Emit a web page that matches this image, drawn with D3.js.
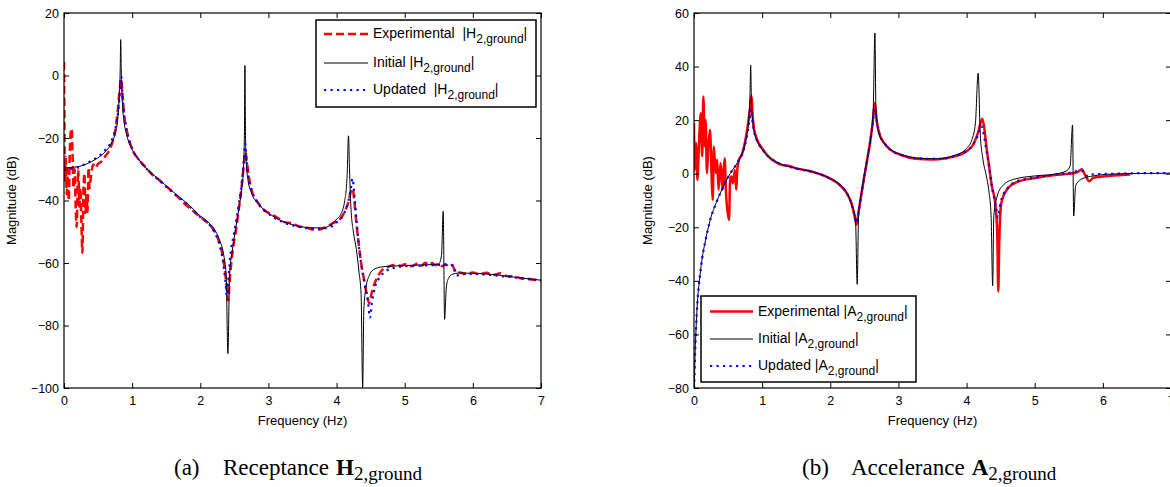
<!DOCTYPE html>
<html>
<head>
<meta charset="utf-8">
<script src="https://cdn.jsdelivr.net/npm/d3@7"></script>
<style>
  body { margin: 0; background: #fff; }
  svg text { font-family: "Liberation Sans", Arial, sans-serif; fill: #000; }
</style>
</head>
<body>
<svg id="fig" width="1170" height="487"></svg>
<script>

// tick values
const freqTicks = [0, 1, 2, 3, 4, 5, 6, 7];
const hTicks = [20, 0, -20, -40, -60, -80, -100];
const aTicks = [60, 40, 20, 0, -20, -40, -60, -80];

// (a) receptance |H2,ground|, [Hz, dB]
const hExperimental = [
  [0, 4.3], [0.005, -10], [0.012, -34], [0.025, -26], [0.04, -38], [0.055, -30], [0.07, -40],
  [0.085, -25], [0.1, -18], [0.113, -17], [0.125, -25], [0.14, -36], [0.155, -30], [0.17, -41],
  [0.186, -48.5], [0.2, -35], [0.21, -30], [0.225, -42], [0.24, -36], [0.255, -47], [0.27, -56.8],
  [0.285, -37], [0.3, -31.3], [0.315, -44], [0.33, -38], [0.345, -43.7], [0.36, -29.5], [0.375, -36],
  [0.39, -33.4], [0.41, -30], [0.43, -28.5], [0.46, -29.5], [0.5, -28.3], [0.55, -27.5], [0.6, -26],
  [0.65, -24.5], [0.7, -22], [0.75, -18], [0.79, -11], [0.82, -4], [0.838, -1], [0.855, -5],
  [0.88, -12], [0.93, -18.5], [1.0, -23.5], [1.1, -27], [1.2, -29.4], [1.3, -31.8], [1.4, -33.5],
  [1.5, -35.5], [1.6, -37.4], [1.7, -39.5], [1.8, -41.6], [1.85, -42.5], [1.9, -43.5], [2.0, -45.3],
  [2.1, -47], [2.2, -49.5], [2.28, -53.5], [2.34, -59], [2.38, -66], [2.41, -72], [2.43, -66],
  [2.47, -57], [2.52, -50], [2.57, -42], [2.61, -35], [2.64, -28], [2.66, -24.5], [2.68, -27],
  [2.71, -32], [2.75, -36.5], [2.85, -40.8], [2.95, -43.3], [3.05, -44.4], [3.15, -45.8], [3.25, -47],
  [3.35, -47.3], [3.45, -48.3], [3.55, -48.6], [3.65, -49.3], [3.75, -49.3], [3.85, -48.4], [3.95, -47.2],
  [4.05, -46], [4.12, -43.5], [4.18, -40], [4.21, -37], [4.235, -36.2], [4.26, -40], [4.29, -47],
  [4.32, -53], [4.36, -60], [4.41, -66], [4.45, -70.7], [4.48, -72.9], [4.51, -70], [4.55, -67],
  [4.6, -64.5], [4.65, -62.7], [4.75, -61.3], [4.84, -60.6], [4.95, -60.9], [5.0, -60.4], [5.1, -61],
  [5.2, -60.1], [5.25, -60.8], [5.3, -59.9], [5.35, -60.6], [5.4, -60], [5.45, -60.7], [5.5, -60.2],
  [5.55, -61], [5.6, -60.4], [5.65, -61.2], [5.7, -60.6], [5.74, -62.8], [5.8, -63], [5.9, -63.4],
  [6.0, -63], [6.1, -63.6], [6.2, -63.1], [6.3, -63.8], [6.4, -63.3], [6.5, -64.2], [6.6, -64.3],
  [6.7, -64.9], [6.8, -65.1], [6.9, -65.4], [7.0, -65.7]
];
const hInitial = [
  [0, -29.6], [0.2, -29.2], [0.4, -27.6], [0.5, -26.3], [0.6, -24.5], [0.7, -21.5], [0.75, -18.6],
  [0.79, -13.5], [0.81, -7], [0.825, 2], [0.832, 11.5], [0.84, 2], [0.855, -8], [0.88, -14.5],
  [0.92, -19], [1.0, -23.7], [1.1, -26.9], [1.2, -29.5], [1.4, -33.4], [1.6, -37.2], [1.8, -40.8],
  [1.9, -42.8], [2.0, -45], [2.1, -46.6], [2.2, -49], [2.28, -52.5], [2.34, -57], [2.38, -64],
  [2.405, -89], [2.43, -64], [2.47, -56], [2.52, -49], [2.57, -42], [2.61, -36], [2.635, -29],
  [2.648, -18], [2.655, 3.2], [2.663, -18], [2.675, -28], [2.7, -33.5], [2.75, -37.5], [2.85, -41],
  [3.0, -44], [3.2, -46.6], [3.4, -48], [3.6, -48.7], [3.8, -48.8], [3.9, -48], [4.0, -46],
  [4.06, -44.5], [4.12, -40], [4.155, -32], [4.175, -19.3], [4.19, -30], [4.21, -42], [4.25, -50.5],
  [4.29, -55.6], [4.33, -63], [4.36, -70], [4.383, -100], [4.4, -75], [4.43, -68], [4.48, -64],
  [4.55, -62], [4.65, -61.3], [4.8, -61], [5.0, -60.8], [5.3, -60.6], [5.5, -60.3], [5.54, -57.5],
  [5.565, -43.5], [5.585, -78], [5.61, -68], [5.64, -65], [5.7, -63.6], [5.8, -63.2], [6.0, -63.3],
  [6.3, -63.7], [6.6, -64.5], [7.0, -65.5]
];
const hUpdated = [
  [0, -30.3], [0.2, -29.3], [0.4, -27.3], [0.5, -26], [0.6, -24], [0.7, -20.8], [0.76, -16.5],
  [0.8, -10.5], [0.825, -4], [0.84, -0.3], [0.855, -5], [0.88, -12], [0.93, -18.5], [1.0, -23.5],
  [1.1, -27], [1.2, -29.6], [1.4, -33.6], [1.6, -37.5], [1.8, -41], [2.0, -45.3], [2.1, -47],
  [2.2, -49.8], [2.28, -54], [2.33, -59], [2.37, -66], [2.39, -70.5], [2.41, -66], [2.44, -58],
  [2.5, -50], [2.56, -42], [2.61, -34], [2.64, -27], [2.658, -21.8], [2.675, -26], [2.7, -31.5],
  [2.75, -36.5], [2.85, -41], [3.0, -44.2], [3.2, -46.8], [3.4, -48.2], [3.6, -48.9], [3.75, -49],
  [3.9, -48.5], [4.0, -47], [4.1, -44.5], [4.17, -40.5], [4.21, -36], [4.235, -33], [4.26, -38],
  [4.29, -46], [4.32, -53], [4.36, -60], [4.41, -66.5], [4.46, -72], [4.49, -77.5], [4.52, -72.5],
  [4.56, -68], [4.62, -65], [4.7, -63], [4.85, -61.5], [5.0, -61], [5.3, -60.8], [5.5, -60.6],
  [5.65, -60.6], [5.72, -61], [5.76, -64], [5.82, -63.6], [6.0, -63.5], [6.3, -63.9], [6.6, -64.6],
  [7.0, -65.5]
];

// (b) accelerance |A2,ground|, [Hz, dB]
const aExperimental = [
  [0, 18.8], [0.01, 1.4], [0.03, 11.5], [0.05, -2.3], [0.07, 9], [0.1, 22.6], [0.12, 6.5],
  [0.137, 28.8], [0.16, 10.2], [0.17, 20.1], [0.19, 0.2], [0.21, 10.2], [0.235, 16.3], [0.26, -2.3],
  [0.275, -9.8], [0.29, 10.2], [0.32, 0.2], [0.34, 5.2], [0.36, -6], [0.39, 4], [0.42, -6],
  [0.43, -1], [0.45, 5.8], [0.47, -7.3], [0.514, -17.3], [0.53, -2.3], [0.55, -1], [0.57, -3.6],
  [0.6, 1.4], [0.62, -6], [0.635, 1.4], [0.66, 5.2], [0.7, 7], [0.75, 12], [0.8, 20], [0.825, 25],
  [0.845, 29], [0.86, 22], [0.88, 17], [0.93, 12.5], [1.0, 9.5], [1.07, 7], [1.2, 4.3], [1.3, 3.2],
  [1.4, 2.9], [1.5, 2.0], [1.6, 1.5], [1.7, 1.0], [1.8, 0.2], [1.9, -0.6], [2.0, -1.8], [2.12, -3.8],
  [2.24, -7.2], [2.31, -11], [2.35, -15], [2.385, -19], [2.41, -15], [2.46, -7], [2.53, 3.5],
  [2.58, 11], [2.62, 18.5], [2.655, 26.5], [2.68, 20], [2.72, 15], [2.79, 11.5], [2.88, 9],
  [3.04, 7], [3.26, 5.6], [3.5, 5.3], [3.7, 5.8], [3.84, 6.6], [4.0, 8.4], [4.1, 11], [4.17, 15.5],
  [4.23, 20.5], [4.26, 17], [4.29, 10.4], [4.33, 2.9], [4.37, -4.5], [4.42, -11], [4.45, -22],
  [4.465, -44], [4.48, -25], [4.51, -11], [4.59, -6], [4.75, -3], [5.01, -1.6], [5.3, -0.5],
  [5.5, 0], [5.62, 0.5], [5.69, 1.7], [5.74, -0.5], [5.8, -2.8], [5.86, -1.5], [6.0, -1],
  [6.2, -0.6], [6.4, -0.3]
];
const aInitial = [
  [0.003, -80], [0.015, -68], [0.03, -58], [0.05, -48], [0.07, -42], [0.09, -37.5], [0.12, -31.5],
  [0.16, -26], [0.235, -17.5], [0.34, -10], [0.43, -4.8], [0.53, 0], [0.64, 4.3], [0.72, 8.5],
  [0.77, 14], [0.805, 21], [0.82, 28], [0.832, 40.5], [0.842, 28], [0.86, 20], [0.89, 15],
  [0.97, 10.2], [1.07, 7], [1.2, 4.5], [1.4, 2.6], [1.6, 1.5], [1.8, 0.3], [2.0, -1.8], [2.12, -3.6],
  [2.24, -7], [2.32, -12], [2.37, -17], [2.395, -41.3], [2.415, -15.7], [2.46, -7], [2.54, 5.4],
  [2.59, 12.8], [2.63, 24], [2.655, 52.5], [2.67, 24], [2.71, 15.3], [2.78, 11.6], [2.88, 9.1],
  [3.04, 7.2], [3.26, 5.9], [3.57, 5.6], [3.84, 7], [4.0, 9.5], [4.08, 12.8], [4.13, 19],
  [4.17, 37.5], [4.2, 15.3], [4.24, 5.4], [4.29, -0.8], [4.33, -7], [4.36, -15.7], [4.383, -41.8],
  [4.4, -15.7], [4.45, -8.3], [4.53, -4.5], [4.69, -2.1], [5.01, -0.8], [5.28, -0.2], [5.46, 1],
  [5.52, 2.9], [5.555, 18.2], [5.572, -15.8], [5.6, -4.5], [5.68, -2.1], [5.86, -0.8], [6.07, -0.2],
  [6.5, 0.1], [7.0, 0.2]
];
const aUpdated = [
  [0, -80], [0.004, -78], [0.015, -68], [0.03, -58], [0.05, -48], [0.07, -42], [0.09, -37.5],
  [0.12, -31.5], [0.16, -26], [0.235, -17.5], [0.34, -10], [0.43, -4.8], [0.53, 0], [0.64, 4.3],
  [0.73, 9.1], [0.79, 16], [0.82, 21], [0.835, 24], [0.85, 21], [0.88, 16], [0.93, 12], [1.0, 9.2],
  [1.07, 7], [1.2, 4.5], [1.4, 2.6], [1.6, 1.4], [1.8, 0.2], [2.0, -1.9], [2.12, -3.7], [2.24, -7.2],
  [2.31, -11], [2.35, -15], [2.38, -18.3], [2.41, -15], [2.46, -7], [2.53, 3.5], [2.58, 11],
  [2.62, 18], [2.65, 24], [2.68, 20], [2.72, 15], [2.79, 11.5], [2.88, 9], [3.04, 7], [3.26, 5.8],
  [3.57, 5.5], [3.84, 6.6], [4.0, 8.6], [4.1, 11], [4.17, 14.5], [4.22, 17.8], [4.25, 15],
  [4.28, 10.4], [4.33, 2.9], [4.37, -4.5], [4.43, -12], [4.46, -16.3], [4.5, -10.7], [4.59, -5.8],
  [4.75, -2.7], [5.01, -1.4], [5.3, -0.3], [5.49, 0.2], [5.65, 1], [5.7, 1], [5.78, -1], [5.86, -0.2],
  [6.2, 0], [6.6, 0.2], [7.0, 0.2]
];


const svg = d3.select('#fig');

const plotTop = 13, plotBottom = 388;

// line styles
const expDashedStyle = { stroke: '#ff0000', width: 2.5, dash: '8,4' };
const expSolidStyle = { stroke: '#ff0000', width: 2.5, dash: null };
const initialStyle = { stroke: '#000000', width: 1, dash: null };
const updatedStyle = { stroke: '#0000ff', width: 2.2, dash: '2.2,4.3' };


function drawPanel(id, left, right, yDomain, yTicks, series, labelX) {

    const g = svg.append('g').attr('id', id);

    const x = d3.scaleLinear().domain([0, 7]).range([left, right]);
    const y = d3.scaleLinear().domain(yDomain).range([plotBottom, plotTop]);

    g.append('clipPath')
        .attr('id', id + '-clip')
        .append('rect')
        .attr('x', left)
        .attr('y', plotTop)
        .attr('width', right - left)
        .attr('height', plotBottom - plotTop);

    const line = d3.line()
        .x(d => x(d[0]))
        .y(d => y(d[1]))
        .curve(d3.curveMonotoneX);

    const plot = g.append('g').attr('clip-path', `url(#${id}-clip)`);

    series.forEach(s => {
        plot.append('path')
            .datum(s.data)
            .attr('fill', 'none')
            .attr('stroke', s.style.stroke)
            .attr('stroke-width', s.style.width)
            .attr('stroke-dasharray', s.style.dash)
            .attr('stroke-linejoin', 'round')
            .attr('d', line);
    });

    // axes, ticks point inwards like matlab
    g.append('g')
        .attr('transform', `translate(0,${plotBottom})`)
        .call(d3.axisBottom(x).tickValues(freqTicks).tickFormat(d3.format('d')).tickSize(-5).tickPadding(8));
    g.append('g')
        .attr('transform', `translate(0,${plotTop})`)
        .call(d3.axisTop(x).tickValues(freqTicks).tickSize(-5).tickFormat(''));
    g.append('g')
        .attr('transform', `translate(${left},0)`)
        .call(d3.axisLeft(y).tickValues(yTicks).tickSize(-5).tickPadding(5));
    g.append('g')
        .attr('transform', `translate(${right},0)`)
        .call(d3.axisRight(y).tickValues(yTicks).tickSize(-5).tickFormat(''));

    g.selectAll('.domain').remove();
    g.selectAll('.tick line').attr('stroke', '#000');
    g.selectAll('.tick text')
        .style('font-size', '12.5px')
        .attr('fill', '#000');

    g.append('rect')
        .attr('x', left)
        .attr('y', plotTop)
        .attr('width', right - left)
        .attr('height', plotBottom - plotTop)
        .attr('fill', 'none')
        .attr('stroke', '#000')
        .attr('stroke-width', 1.2);

    g.append('text')
        .attr('x', (left + right) / 2)
        .attr('y', 425)
        .attr('text-anchor', 'middle')
        .style('font-size', '13px')
        .text('Frequency (Hz)');

    g.append('text')
        .attr('transform', `translate(${labelX},${(plotTop + plotBottom) / 2}) rotate(-90)`)
        .attr('text-anchor', 'middle')
        .style('font-size', '13px')
        .text('Magnitude (dB)');

    return g;
}


function drawLegend(box, rows) {

    const lg = svg.append('g');

    lg.append('rect')
        .attr('x', box.x)
        .attr('y', box.y)
        .attr('width', box.w)
        .attr('height', box.h)
        .attr('fill', '#fff')
        .attr('stroke', '#000')
        .attr('stroke-width', 1.5);

    rows.forEach((r, i) => {
        const ly = box.rowY[i];
        lg.append('line')
            .attr('x1', box.lineX[0])
            .attr('x2', box.lineX[1])
            .attr('y1', ly)
            .attr('y2', ly)
            .attr('stroke', r.style.stroke)
            .attr('stroke-width', r.style.width)
            .attr('stroke-dasharray', r.style.dash);

        const t = lg.append('text')
            .attr('x', box.textX)
            .attr('y', ly + 4)
            .style('font-size', '14px')
            .style('white-space', 'pre');
        t.append('tspan').text(r.label + '|' + r.sym);
        t.append('tspan').attr('dy', 5).style('font-size', '12px').text('2,ground');
        t.append('tspan').attr('dy', -5).text('|');
    });
}


function drawCaption(x0, tag, word, sym) {

    const c = svg.append('g');
    const serif = '"Liberation Serif", "Times New Roman", serif';

    c.append('text').attr('x', x0).attr('y', 475)
        .style('font-family', serif).style('font-size', '23px').text(tag);
    const w = c.append('text').attr('x', x0 + 49).attr('y', 475)
        .style('font-family', serif).style('font-size', '23px').text(word);
    const wordEnd = x0 + 49 + w.node().getComputedTextLength();
    const s = c.append('text').attr('x', wordEnd + 7).attr('y', 475)
        .style('font-family', serif).style('font-size', '23px');
    s.append('tspan').style('font-weight', 'bold').text(sym);
    s.append('tspan').attr('dy', 5).style('font-size', '19px').text('2,ground');
}


drawPanel('receptance', 64, 541, [-100, 20], hTicks, [
    { data: hExperimental, style: expDashedStyle },
    { data: hInitial, style: initialStyle },
    { data: hUpdated, style: updatedStyle }
], 16);

drawPanel('accelerance', 694, 1171, [-80, 60], aTicks, [
    { data: aExperimental, style: expSolidStyle },
    { data: aInitial, style: initialStyle },
    { data: aUpdated, style: updatedStyle }
], 652);

drawLegend({ x: 316, y: 20, w: 220, h: 87, lineX: [324, 368], textX: 373, rowY: [34, 63, 90] }, [
    { label: 'Experimental  ', sym: 'H', style: expDashedStyle },
    { label: 'Initial ', sym: 'H', style: initialStyle },
    { label: 'Updated  ', sym: 'H', style: updatedStyle }
]);

drawLegend({ x: 701, y: 296, w: 215, h: 86, lineX: [710, 753], textX: 758, rowY: [311.5, 339, 366] }, [
    { label: 'Experimental ', sym: 'A', style: expSolidStyle },
    { label: 'Initial ', sym: 'A', style: initialStyle },
    { label: 'Updated ', sym: 'A', style: updatedStyle }
]);

drawCaption(174, '(a)', 'Receptance', 'H');
drawCaption(802, '(b)', 'Accelerance', 'A');

</script>
</body>
</html>
